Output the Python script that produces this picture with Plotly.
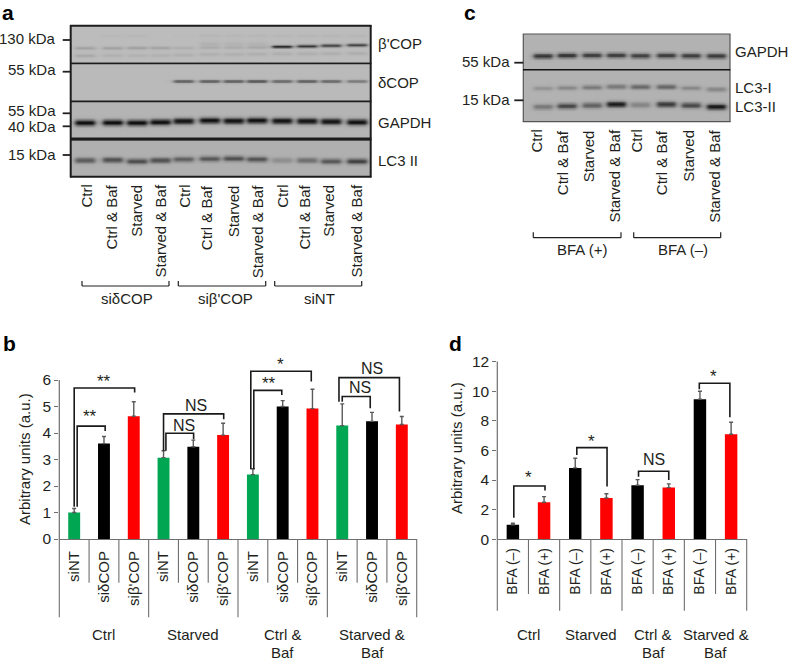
import numpy as np
import plotly.graph_objects as go

W, H = 788, 661
FONT = "Liberation Sans"
INK = "#231f20"

# ---------- panel b ----------
B_LABELS = ["siNT", "siδCOP", "siβ'COP"] * 4
B_VALUES = [1.0, 3.6, 4.63, 3.07, 3.48, 3.92, 2.43, 5.0, 4.92, 4.28, 4.44, 4.32]
B_ERRORS = [0.15, 0.27, 0.55, 0.26, 0.25, 0.45, 0.22, 0.22, 0.73, 0.82, 0.34, 0.30]
B_COLORS = ["#00a651", "#000000", "#ff0000"] * 4
B_GROUPS = [("Ctrl", 1.0), ("Starved", 4.0), ("Ctrl &\nBaf", 7.0), ("Starved &\nBaf", 10.0)]
# left, left foot, top, right, right foot
B_BRACKETS = [
    (0.0, 1.22, 5.70, 2.03, 5.53), (0.1, 1.22, 4.26, 1.04, 4.08),
    (3.0, 3.33, 4.72, 5.02, 4.52), (3.08, 3.33, 3.99, 4.01, 3.76),
    (5.93, 2.63, 6.33, 7.96, 5.94), (6.03, 2.63, 5.61, 6.97, 5.43),
    (8.89, 5.18, 6.09, 10.92, 4.81), (9.0, 5.18, 5.38, 9.94, 4.93),
]
B_MARKS = [
    ("**", 1.0, 5.95), ("**", 0.53, 4.62), ("NS", 4.08, 5.03), ("NS", 3.68, 4.30),
    ("*", 6.92, 6.58), ("**", 6.54, 5.86), ("NS", 10.01, 6.44), ("NS", 9.6, 5.72),
]

# ---------- panel d ----------
D_LABELS = ["BFA (–)", "BFA (+)"] * 4
D_VALUES = [0.98, 2.5, 4.82, 2.79, 3.65, 3.49, 9.46, 7.09]
D_ERRORS = [0.1, 0.38, 0.65, 0.29, 0.38, 0.25, 0.54, 0.81]
D_COLORS = ["#000000", "#ff0000"] * 4
D_GROUPS = [("Ctrl", 0.5), ("Starved", 2.5), ("Ctrl &\nBaf", 4.5), ("Starved &\nBaf", 6.5)]
D_BRACKETS = [
    (0.03, 1.46, 3.6, 1.03, 3.29), (2.05, 5.7, 6.19, 3.02, 3.56),
    (4.03, 4.23, 4.59, 5.0, 4.0), (5.98, 10.14, 10.54, 6.96, 8.24),
]
D_MARKS = [("*", 0.5, 4.15), ("*", 2.52, 6.62), ("NS", 4.53, 5.36), ("*", 6.44, 10.97)]

# ---------- blots: lane centres and band rows (y, strength per lane) ----------
A_LANES = [84.7, 112.3, 136.7, 160, 183.3, 209.3, 233.3, 256.7, 281.7, 306.7, 330.7, 356.7]
C_LANES = [542.7, 566.7, 591.7, 616, 640, 666, 690.7, 716]

A_COP_B_MAIN_Y = [47.8, 47.8, 47.6, 47.6, 47.6, 47.2, 47.2, 47.0, 46.2, 45.7, 45.2, 44.8]
A_COP_B_MAIN = [0.18, 0.18, 0.18, 0.16, 0.09, 0.10, 0.09, 0.11, 0.85, 0.85, 0.85, 0.80]
A_COP_B_LOW_Y = [55.2, 55, 55, 55, 54.5, 54, 54, 53.8, 53.5, 53.5, 53.2, 53]
A_COP_B_LOW = [0.11, 0.07, 0.06, 0.06, 0.08, 0.08, 0.08, 0.08, 0.08, 0.08, 0.08, 0.08]
A_COP_B_SMEAR_Y = [35.5] * 12
A_COP_B_SMEAR = [0.0, 0.02, 0.03, 0.0, 0.01, 0.04, 0.03, 0.03, 0.03, 0.04, 0.04, 0.04]
A_COP_B_MID_Y = [43.5] * 12
A_COP_B_MID = [0.0, 0.0, 0.0, 0.0, 0.0, 0.06, 0.05, 0.05, 0.0, 0.0, 0.0, 0.0]
A_COP_D_Y = [81] * 12
A_COP_D = [0.0, 0.0, 0.0, 0.0, 0.50, 0.50, 0.50, 0.55, 0.45, 0.50, 0.45, 0.35]
A_GAPDH_Y = [122.5, 122.3, 122.5, 121.8, 120.8, 120.2, 120.6, 120.2, 120.6, 120.8, 121.2, 121.8]
A_GAPDH = [1.0, 1.0, 1.0, 1.0, 1.0, 1.0, 1.0, 1.0, 1.0, 1.0, 1.0, 1.0]
A_LC3_Y = [160, 159.6, 161, 160, 159, 158.5, 158.2, 159, 160, 160, 161, 161]
A_LC3 = [0.55, 0.62, 0.62, 0.62, 0.50, 0.55, 0.60, 0.58, 0.22, 0.42, 0.55, 0.70]

C_GAPDH_Y = [55.8, 55.2, 55, 55, 55.5, 55.2, 55.5, 55.7]
C_GAPDH = [0.75, 0.75, 0.70, 0.70, 0.68, 0.70, 0.70, 0.72]
C_LC3I_Y = [88, 87.5, 87, 86.3, 86.5, 86.5, 87.7, 89]
C_LC3I = [0.18, 0.25, 0.35, 0.38, 0.48, 0.50, 0.25, 0.28]
C_LC3II_Y = [106.5, 105.7, 105, 104, 104.5, 104, 105, 106.5]
C_LC3II = [0.35, 0.65, 0.50, 0.95, 0.28, 0.75, 0.65, 0.95]

BLOTS = [
    dict(lanes=A_LANES, box=(70.7, 370.7, 25.7, 63), bg="#bcbcbc",
         rows=[(A_COP_B_MAIN_Y, A_COP_B_MAIN, 1.0), (A_COP_B_LOW_Y, A_COP_B_LOW, 1.2),
               (A_COP_B_SMEAR_Y, A_COP_B_SMEAR, 1.0), (A_COP_B_MID_Y, A_COP_B_MID, 1.5)]),
    dict(lanes=A_LANES, box=(70.7, 370.7, 63, 101.5), bg="#bababa", rows=[(A_COP_D_Y, A_COP_D, 1.2)]),
    dict(lanes=A_LANES, box=(70.7, 370.7, 101.5, 138.5), bg="#b4b4b4", rows=[(A_GAPDH_Y, A_GAPDH, 2.1)]),
    dict(lanes=A_LANES, box=(70.7, 370.7, 140.5, 177), bg="#b0b0b0", rows=[(A_LC3_Y, A_LC3, 1.9)]),
    dict(lanes=C_LANES, box=(523.3, 730, 34, 69.8), bg="#b2b2b2", rows=[(C_GAPDH_Y, C_GAPDH, 1.9)]),
    dict(lanes=C_LANES, box=(523.3, 730, 69.8, 121.7), bg="#b2b2b2",
         rows=[(C_LC3I_Y, C_LC3I, 1.6), (C_LC3II_Y, C_LC3II, 2.0)]),
]

A_LANE_TEXT = ["Ctrl", "Ctrl & Baf", "Starved", "Starved & Baf"] * 3
A_TEXT_X = [86, 111, 135.7, 160, 184.3, 206.7, 233.3, 257.7, 282.3, 304, 327.7, 356]
C_LANE_TEXT = ["Ctrl", "Ctrl & Baf", "Starved", "Starved & Baf"] * 2
C_TEXT_X = [536, 562.7, 588.3, 614, 636, 661.7, 687.7, 714.3]

px_x = lambda x: x / W
px_y = lambda y: 1 - y / H


def text(s, x, y, size=15, xa="center", ya="middle", angle=0, bold=False, xref="paper", yref="paper"):
    return dict(text=s, x=x, y=y, xref=xref, yref=yref, xanchor=xa, yanchor=ya, textangle=angle,
                showarrow=False, borderpad=0, borderwidth=0,
                font=dict(family=FONT, size=size, color="#000000" if bold else INK,
                          weight="bold" if bold else "normal"))


def seg(x0, y0, x1, y1, color=INK, width=1.5):
    return dict(type="line", xref="paper", yref="paper", x0=px_x(x0), y0=px_y(y0), x1=px_x(x1), y1=px_y(y1),
                line=dict(color=color, width=width))


fig = go.Figure()
ann, shapes = [], []

# ---------- bar charts ----------
GREY = "#6f6f6f"


def bars(labels, values, errors, colors, brackets, marks, groups, xa, ya, ax_left, ax_right, y0, y_unit,
         ymax, yticks, width, tick_size, standoff, minor_y, major_y, title_x, title_y, group_every):
    n = len(values)
    xs = list(range(n))
    fig.add_trace(go.Bar(x=xs, y=values, width=width, marker=dict(color=colors, line=dict(width=0)),
                         error_y=dict(type="data", symmetric=False, array=errors, arrayminus=[0] * n,
                                      color="#5a5a5a", thickness=1.4, width=2),
                         xaxis=xa, yaxis=ya, showlegend=False, hoverinfo="skip"))
    bx, by = [], []
    for l, lf, t, r, rf in brackets:
        bx += [l, l, r, r, None]
        by += [lf, t, t, rf, None]
    fig.add_trace(go.Scatter(x=bx, y=by, mode="lines", line=dict(color="#1a1a1a", width=1.6),
                             xaxis=xa, yaxis=ya, showlegend=False, hoverinfo="skip", cliponaxis=False))
    for s, x, y in marks:
        ann.append(text(s, x, y, size=16 if s == "NS" else 17, xref=xa, yref=ya))
    xa_key = "xaxis" + xa[1:]
    ya_key = "yaxis" + ya[1:]
    top_px = y0 - ymax * y_unit
    fig.layout[xa_key] = dict(domain=[px_x(ax_left), px_x(ax_right)], range=[-0.5, n - 0.5], anchor=ya,
                              tickmode="array", tickvals=xs, ticktext=labels, tickangle=-90, ticks="",
                              ticklabelstandoff=standoff, tickfont=dict(family=FONT, size=tick_size, color=INK),
                              showline=True, linecolor=GREY, linewidth=1.2, showgrid=False, zeroline=False)
    fig.layout[ya_key] = dict(domain=[px_y(y0), px_y(top_px)], range=[0, ymax], anchor=xa, tickmode="array",
                              tickvals=yticks, ticks="outside", ticklen=4, tickcolor=GREY, tickwidth=1.2,
                              tickfont=dict(family=FONT, size=15.5, color=INK), showline=False,
                              showgrid=False, zeroline=False)
    shapes.append(seg(ax_left, y0, ax_left, y0 - yticks[-1] * y_unit, GREY, 1.2))
    step = (ax_right - ax_left) / n
    for i in range(n + 1):
        major = i % group_every == 0
        xp = ax_left + i * step
        shapes.append(seg(xp, y0, xp, major_y if major else minor_y, GREY, 1.1))
    ann.append(text("Arbitrary units (a.u.)", title_x, title_y, angle=-90))
    for g, cx in groups:
        for k, line in enumerate(g.split("\n")):
            ann.append(text(line, cx, px_y(634.5 + 18.4 * k), xref=xa, yref="paper"))


bars(B_LABELS, B_VALUES, B_ERRORS, B_COLORS, B_BRACKETS, B_MARKS, B_GROUPS, "x", "y", 59.3, 416.7, 539, 26.5,
     6.9, [0, 1, 2, 3, 4, 5, 6], 0.4, 15, 5, 582.7, 617.3, px_x(24), px_y(459), 3)
bars(D_LABELS, D_VALUES, D_ERRORS, D_COLORS, D_BRACKETS, D_MARKS, D_GROUPS, "x2", "y2", 497.3, 746.7, 539.3, 14.81,
     12, [0, 2, 4, 6, 8, 10, 12], 0.4, 14, 2, 594, 610.7, px_x(456), px_y(448), 2)

# ---------- blots ----------
for i, b in enumerate(BLOTS):
    n = i + 3
    x0, x1, y0, y1 = b["box"]
    gx = np.arange(x0, x1 + 1, 1.0)
    gy = np.arange(y0, y1 + 0.75, 0.75)
    z = np.zeros((len(gy), len(gx)))
    half = 10.0 if b["lanes"] is A_LANES else 9.5
    for ys, amps, sy in b["rows"]:
        for cx, yc, a in zip(b["lanes"], ys, amps):
            dx = np.abs(gx - cx) / half
            prof = 1 / (1 + dx ** 8)
            z += a * np.outer(np.exp(-0.5 * ((gy - yc) / sy) ** 2), prof)
    fig.add_trace(go.Heatmap(x=gx, y=gy, z=np.clip(z, 0, 1).round(3).tolist(), zmin=0, zmax=1, zsmooth="best",
                             colorscale=[[0, b["bg"]], [1, "#0c0c0c"]], showscale=False, hoverinfo="skip",
                             xaxis=f"x{n}", yaxis=f"y{n}"))
    fig.layout[f"xaxis{n}"] = dict(domain=[px_x(x0), px_x(x1)], range=[x0, x1], anchor=f"y{n}", showticklabels=False,
                                   ticks="", showgrid=False, zeroline=False, showline=False)
    fig.layout[f"yaxis{n}"] = dict(domain=[px_y(y1), px_y(y0)], range=[y1, y0], anchor=f"x{n}", showticklabels=False,
                                   ticks="", showgrid=False, zeroline=False, showline=False)

# blot frames
FRAME = "#1c1c1c"
for yy in (25.7, 176.7):
    shapes.append(seg(70, yy, 371.4, yy, FRAME, 2))
for xx in (70.7, 370.7):
    shapes.append(seg(xx, 25, xx, 177.4, FRAME, 2))
for yy, w in ((63.3, 1.8), (101.3, 1.8), (139.2, 3.2)):
    shapes.append(seg(70, yy, 371.4, yy, FRAME, w))
for yy in (34, 121.7):
    shapes.append(seg(522.8, yy, 730.5, yy, "#555555", 1.2))
for xx in (523.3, 730):
    shapes.append(seg(xx, 34, xx, 122, "#555555", 1.2))
shapes.append(seg(523, 69.8, 730.3, 69.8, "#111111", 1.5))

# kDa markers, a
for s, ty, tick_y in (("130 kDa", 38.3, 40), ("55 kDa", 69.5, 71.7), ("55 kDa", 110.7, 113.3),
                      ("40 kDa", 126.7, 126.3), ("15 kDa", 154, 155)):
    ann.append(text(s, px_x(55.5), px_y(ty), xa="right"))
    shapes.append(seg(62.7, tick_y, 70.7, tick_y, INK, 1.8))
for s, ty in (("β'COP", 43.5), ("δCOP", 82), ("GAPDH", 122), ("LC3 II", 161)):
    ann.append(text(s, px_x(377.7), px_y(ty), xa="left"))
for s, x in zip(A_LANE_TEXT, A_TEXT_X):
    ann.append(text(s, px_x(x), px_y(185), angle=-90, ya="top"))
for x0, x1, s, cx in ((82, 169, "siδCOP", 127), (178.3, 265.7, "siβ'COP", 225.7), (274.7, 361.7, "siNT", 319)):
    shapes += [seg(x0, 281, x0, 286, INK, 1.2), seg(x0, 286, x1, 286, INK, 1.2), seg(x1, 281, x1, 286, INK, 1.2)]
    ann.append(text(s, px_x(cx), px_y(298.6)))

# kDa markers, c
for s, ty, tick_y in (("55 kDa", 61, 62.7), ("15 kDa", 99, 100.3)):
    ann.append(text(s, px_x(510), px_y(ty), xa="right"))
    shapes.append(seg(514.3, tick_y, 523.3, tick_y, INK, 1.8))
for s, ty in (("GAPDH", 51.7), ("LC3-I", 87.3), ("LC3-II", 106)):
    ann.append(text(s, px_x(735), px_y(ty), xa="left"))
for s, x in zip(C_LANE_TEXT, C_TEXT_X):
    ann.append(text(s, px_x(x), px_y(130), angle=-90, ya="top"))
for x0, x1, s, cx in ((533.3, 621, "BFA (+)", 581.7), (633.7, 720.7, "BFA (–)", 682.7)):
    shapes += [seg(x0, 232.3, x0, 237.7, INK, 1.2), seg(x0, 237.7, x1, 237.7, INK, 1.2), seg(x1, 232.3, x1, 237.7, INK, 1.2)]
    ann.append(text(s, px_x(cx), px_y(249.5)))

# panel letters
for s, x, y in (("a", 8, 13), ("b", 9, 343), ("c", 470, 13), ("d", 455, 343)):
    ann.append(text(s, px_x(x), px_y(y), size=21, bold=True))

fig.update_layout(width=W, height=H, margin=dict(l=0, r=0, t=0, b=0, autoexpand=False), paper_bgcolor="white",
                  plot_bgcolor="rgba(0,0,0,0)", annotations=ann, shapes=shapes, showlegend=False, bargap=0.6)
fig.write_html("out.html", post_script="document.body.style.margin='0';document.body.style.overflow='hidden';",
               config=dict(displayModeBar=False))
